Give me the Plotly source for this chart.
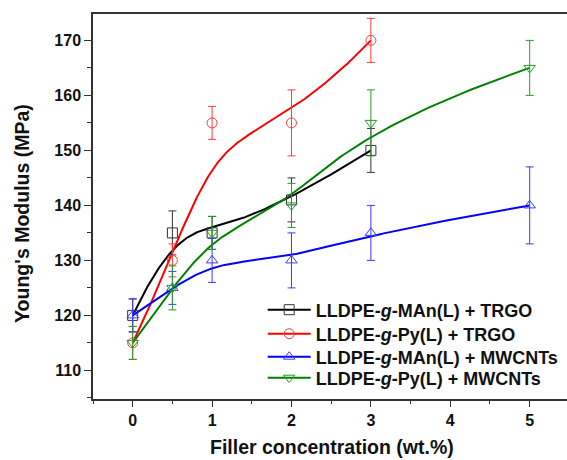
import numpy as np
import plotly.graph_objects as go

# ---- data ----
x_short = [0, 0.5, 1, 2, 3]
x_long = [0, 0.5, 1, 2, 3, 5]

man_trgo = [120, 135, 135, 141, 150]
man_trgo_err = [3, 4, 3, 4, 4]

py_trgo = [115, 130, 155, 155, 170]
py_trgo_err = [3, 3, 3, 6, 4]

man_cnt = [120, 125, 130, 130, 135, 140]
man_cnt_err = [3, 3, 4, 5, 5, 7]

py_cnt = [115, 125, 135, 140, 155, 165]
py_cnt_err = [3, 4, 3, 4, 6, 5]

x_ticks = [0, 1, 2, 3, 4, 5]
y_ticks = [110, 120, 130, 140, 150, 160, 170]

names = [
    "LLDPE-<i>g</i>-MAn(L) + TRGO",
    "LLDPE-<i>g</i>-Py(L) + TRGO",
    "LLDPE-<i>g</i>-MAn(L) + MWCNTs",
    "LLDPE-<i>g</i>-Py(L) + MWCNTs",
]
colors = ["#000000", "#ff0000", "#0000ff", "#008000"]
mcolors = ["#333333", "#ff3b3b", "#3b3bff", "#2a9a2a"]
symbols = ["square-open", "circle-open", "triangle-up-open", "triangle-down-open"]


def bspline(xs, ys, k=3, n=200):
    """Clamped uniform B-spline using data points as control points."""
    P = np.column_stack([xs, ys]).astype(float)
    m = len(P)
    k = min(k, m - 1)
    inner = np.linspace(0, 1, m - k + 1)
    knots = np.concatenate([np.zeros(k), inner, np.ones(k)])
    ts = np.linspace(0, 1, n)
    out = []
    for t in ts:
        if t >= 1:
            s = m - 1
        else:
            s = np.searchsorted(knots, t, side="right") - 1
        d = [P[j].copy() for j in range(s - k, s + 1)]
        for r in range(1, k + 1):
            for j in range(k, r - 1, -1):
                i = j + s - k
                denom = knots[i + k - r + 1] - knots[i]
                a = 0 if denom == 0 else (t - knots[i]) / denom
                d[j] = (1 - a) * d[j - 1] + a * d[j]
        out.append(d[k])
    out = np.array(out)
    return out[:, 0], out[:, 1]


series = [
    (x_short, man_trgo, man_trgo_err),
    (x_short, py_trgo, py_trgo_err),
    (x_long, man_cnt, man_cnt_err),
    (x_long, py_cnt, py_cnt_err),
]

fig = go.Figure()

for i, (xs, ys, es) in enumerate(series):
    cx, cy = bspline(xs, ys)
    fig.add_trace(go.Scatter(
        x=cx, y=cy, mode="lines",
        line=dict(color=colors[i], width=2),
        showlegend=False, hoverinfo="skip",
    ))

for i, (xs, ys, es) in enumerate(series):
    fig.add_trace(go.Scatter(
        x=xs, y=ys, mode="markers",
        marker=dict(symbol=symbols[i], size=10, color=mcolors[i],
                    line=dict(width=1, color=mcolors[i])),
        error_y=dict(type="data", array=es, visible=True,
                     color=mcolors[i], thickness=1, width=4),
        showlegend=False,
    ))

legend_ids = ["legend", "legend2", "legend3", "legend4"]
legend_rows_y = [0.2312, 0.1688, 0.1091, 0.0545]

for i in range(4):
    fig.add_trace(go.Scatter(
        x=[None], y=[None], mode="lines+markers", name=names[i],
        line=dict(color=colors[i], width=2),
        marker=dict(symbol=symbols[i], size=10, color=mcolors[i],
                    line=dict(width=1, color=mcolors[i])),
        legend=legend_ids[i],
    ))

FONT = "Liberation Sans, Arial"
axis_font = dict(family=FONT, size=16, color="#111111", weight="bold")
title_font = dict(family=FONT, size=19.5, color="#111111", weight="bold")
legend_font = dict(family=FONT, size=18, color="#111111", weight="bold")

legend_common = dict(
    x=0.358, xanchor="left", yanchor="middle",
    bgcolor="rgba(0,0,0,0)", borderwidth=0,
    font=legend_font, itemwidth=43,
)

fig.update_layout(
    width=567, height=460,
    margin=dict(l=93, r=0, t=14, b=61),
    paper_bgcolor="white", plot_bgcolor="white",
    showlegend=True,
    legend=dict(y=legend_rows_y[0], **legend_common),
    legend2=dict(y=legend_rows_y[1], **legend_common),
    legend3=dict(y=legend_rows_y[2], **legend_common),
    legend4=dict(y=legend_rows_y[3], **legend_common),
    xaxis=dict(
        range=[-0.5, 5.47], showgrid=False, zeroline=False,
        showline=True, linecolor="#333333", linewidth=1.5, mirror=True,
        ticks="outside", ticklen=6, tickwidth=1.2, tickcolor="#333333",
        tickmode="array", tickvals=x_ticks,
        minor=dict(ticks="outside", ticklen=3, tickwidth=1.2, tickcolor="#333333",
                   tickvals=[-0.5, 0.5, 1.5, 2.5, 3.5, 4.5]),
        tickfont=axis_font,
    ),
    yaxis=dict(
        range=[104.8, 174.8], showgrid=False, zeroline=False,
        showline=True, linecolor="#333333", linewidth=1.5, mirror=False,
        ticks="outside", ticklen=7, tickwidth=1.2, tickcolor="#333333",
        tickmode="array", tickvals=y_ticks,
        minor=dict(ticks="outside", ticklen=4, tickwidth=1.2, tickcolor="#333333",
                   tickvals=[105, 115, 125, 135, 145, 155, 165]),
        tickfont=axis_font,
    ),
    annotations=[
        dict(text="Filler concentration (wt.%)", xref="paper", yref="paper",
             x=0.504, y=-0.157, xanchor="center", yanchor="bottom",
             borderpad=0, showarrow=False, font=title_font),
        dict(text="Young's Modulus (MPa)", xref="paper", yref="paper",
             x=-0.15, y=0.483, xanchor="center", yanchor="middle",
             textangle=-90, showarrow=False, font=title_font),
    ],
)

fig.write_html("out.html")
